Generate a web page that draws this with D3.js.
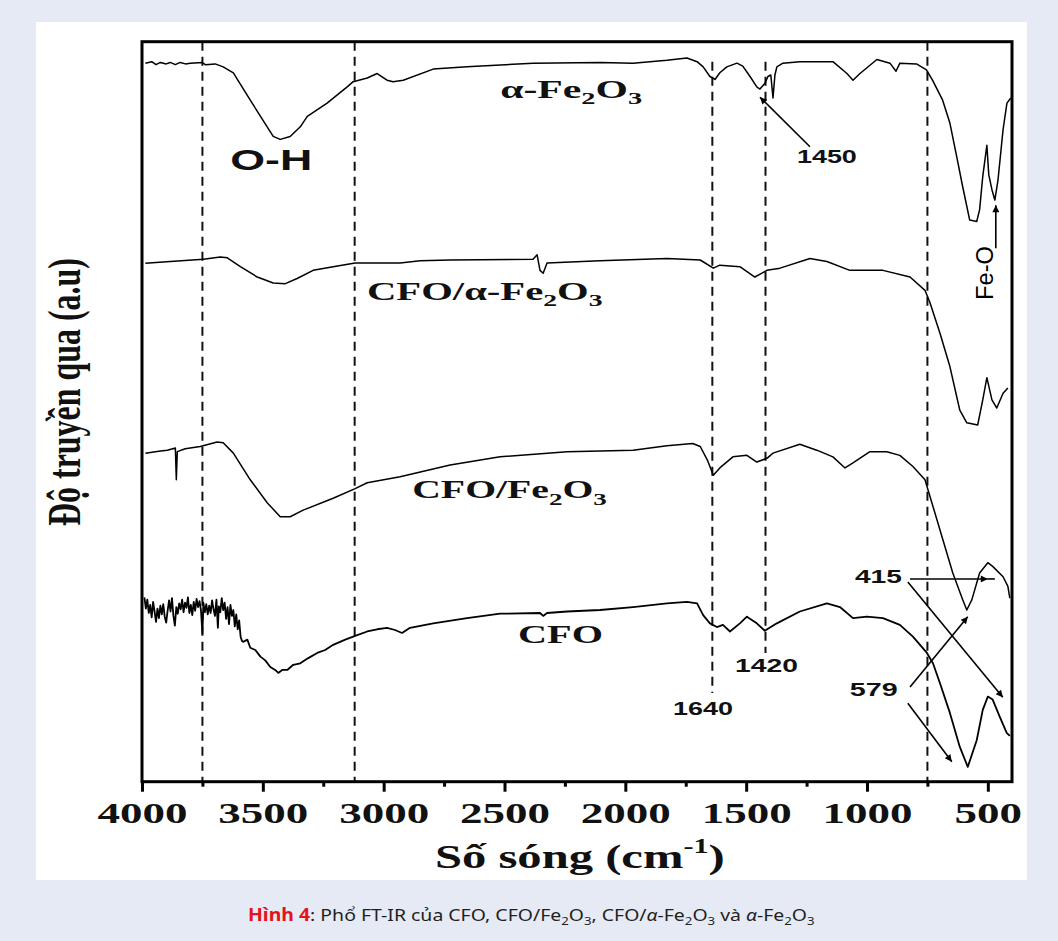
<!DOCTYPE html>
<html><head><meta charset="utf-8">
<script src="https://cdn.jsdelivr.net/npm/d3@7"></script>
<style>html,body{margin:0;padding:0;background:#e6eaf5;} svg{display:block}</style>
</head><body><svg id="c" width="1058" height="941"></svg>
<script>
// ---------- DATA (wavenumber cm^-1, transmittance a.u.) ----------
const alphaFe2O3 = [[3986,97.1],[3960,97.3],[3942,96.9],[3924,97.2],[3900,97.0],[3883,97.2],[3862,96.9],[3842,97.2],[3820,97.0],[3800,97.1],[3752,97.2],[3738,96.9],[3697,97.0],[3664,96.6],[3622,95.8],[3552,92.1],[3482,88.5],[3457,87.2],[3428,86.8],[3387,87.2],[3345,88.5],[3316,89.9],[3234,91.7],[3151,93.9],[3126,94.6],[3068,95.1],[3027,95.7],[2986,94.8],[2961,94.6],[2919,94.8],[2795,96.3],[2655,96.6],[2382,97.1],[2105,97.2],[1968,97.1],[1828,97.5],[1745,97.8],[1703,97.3],[1678,96.6],[1650,95.3],[1629,94.9],[1609,95.8],[1580,96.6],[1538,97.1],[1514,96.7],[1484,95.3],[1456,93.9],[1443,93.6],[1422,94.4],[1410,95.3],[1398,95.5],[1389,92.4],[1381,95.5],[1373,96.6],[1348,97.1],[1278,97.3],[1141,97.3],[1083,95.7],[1058,94.8],[1029,95.7],[959,97.6],[905,97.1],[880,96.0],[864,97.1],[795,97.0],[754,96.2],[729,94.8],[687,92.1],[657,89.0],[629,84.5],[604,80.4],[575,75.9],[546,75.7],[534,77.3],[521,81.8],[504,86.0],[496,82.0],[483,80.0],[471,78.6],[458,81.3],[437,88.1],[421,91.7],[405,92.4]];
const cfoAlphaFe2O3 = [[3986,70.05],[3883,70.3],[3746,70.6],[3676,70.9],[3647,70.8],[3593,69.6],[3523,68.2],[3457,67.4],[3407,67.3],[3358,68.0],[3292,69.1],[3209,69.6],[3118,70.1],[2932,70.1],[2849,70.4],[2725,70.5],[2382,70.6],[2365,71.2],[2353,69.1],[2340,68.7],[2324,70.1],[2105,70.4],[1828,70.7],[1690,70.5],[1636,69.4],[1609,69.8],[1526,69.6],[1464,68.2],[1414,69.1],[1360,69.4],[1236,70.7],[1166,70.3],[1071,69.1],[934,69.1],[822,68.2],[760,66.4],[740,64.8],[698,60.6],[657,56.1],[616,50.2],[587,48.5],[542,48.2],[521,51.6],[504,54.6],[483,51.6],[463,50.5],[437,52.5],[417,53.2]];
const cfoFe2O3 = [[3986,44.4],[3924,44.7],[3895,44.8],[3862,45.1],[3858,40.8],[3854,44.6],[3821,45.0],[3759,45.3],[3689,45.9],[3664,45.8],[3622,44.4],[3552,40.8],[3482,37.7],[3428,35.8],[3387,35.8],[3333,36.7],[3209,38.3],[3118,39.6],[3068,40.4],[2932,41.2],[2725,42.8],[2518,43.9],[2241,44.6],[1968,44.8],[1828,45.4],[1721,45.7],[1690,45.3],[1661,43.5],[1636,41.4],[1609,42.4],[1555,43.9],[1497,44.1],[1456,43.2],[1414,43.7],[1389,44.4],[1278,45.6],[1208,44.8],[1141,43.9],[1091,42.4],[1058,43.1],[988,44.6],[918,44.6],[864,44.1],[810,42.6],[760,40.8],[727,37.2],[686,32.7],[645,28.2],[604,24.6],[587,23.2],[566,24.6],[534,28.2],[500,29.6],[480,29.1],[437,27.7],[417,26.4],[409,24.8]];
const cfo = [[3990,24.9],[3984,23.4],[3978,24.6],[3972,22.8],[3966,23.9],[3960,22.2],[3954,24.3],[3948,23.0],[3942,21.6],[3936,23.4],[3930,22.1],[3924,23.8],[3918,22.6],[3912,24.0],[3906,22.3],[3900,21.5],[3894,23.1],[3888,24.5],[3882,23.0],[3876,24.8],[3870,22.4],[3864,21.1],[3858,23.6],[3852,22.7],[3846,24.1],[3840,23.3],[3834,24.6],[3828,22.9],[3822,24.2],[3816,23.5],[3810,24.9],[3804,22.8],[3798,23.9],[3792,22.5],[3786,24.3],[3780,23.1],[3774,24.7],[3768,23.6],[3762,24.4],[3756,23.2],[3750,20.0],[3746,24.2],[3740,22.9],[3734,24.0],[3728,22.6],[3722,23.8],[3716,22.8],[3710,24.5],[3704,23.3],[3698,22.4],[3692,24.6],[3686,20.8],[3682,23.7],[3676,22.9],[3670,24.8],[3664,23.2],[3658,24.2],[3652,22.0],[3646,23.6],[3640,21.3],[3634,23.9],[3628,22.4],[3622,23.2],[3616,21.0],[3610,22.6],[3604,20.6],[3598,21.8],[3592,19.6],[3586,19.0],[3581,18.9],[3564,19.2],[3552,18.1],[3531,17.8],[3510,16.9],[3490,16.4],[3469,15.5],[3449,15.1],[3436,14.7],[3420,15.1],[3399,15.1],[3374,15.8],[3345,16.0],[3312,16.7],[3275,17.4],[3242,17.8],[3209,18.5],[3159,19.2],[3118,19.7],[3068,20.3],[3027,20.6],[2986,20.8],[2953,20.5],[2924,20.1],[2891,20.8],[2795,21.4],[2655,22.1],[2518,22.7],[2353,22.8],[2340,22.4],[2324,22.8],[2241,23.0],[2105,23.2],[1968,23.6],[1828,24.1],[1745,24.3],[1703,24.1],[1678,22.5],[1650,21.4],[1621,20.9],[1596,21.2],[1567,20.3],[1526,21.4],[1497,22.3],[1456,21.4],[1423,20.4],[1373,21.4],[1278,23.0],[1166,24.1],[1112,23.6],[1058,22.1],[1001,22.3],[934,22.1],[864,21.2],[810,19.6],[752,17.4],[727,16.0],[698,13.3],[657,9.3],[616,4.7],[583,2.0],[546,5.6],[521,9.7],[500,11.5],[480,11.1],[451,8.8],[422,6.6],[409,6.2]];

const majorTicks = [4000,3500,3000,2500,2000,1500,1000,500];
const minorTicks = [3750,3250,2750,2250,1750,1250,750];
const fullDashed = [3750,3120,750];
const peakDashed = [[1640,97.3,12.0],[1420,97.3,17.4]]; // wavenumber, top, bottom (a.u.)

// ---------- SETUP ----------
const svg = d3.select("#c");
svg.append("rect").attr("x",0).attr("y",0).attr("width",1058).attr("height",941).attr("fill","#e6eaf5");
svg.append("rect").attr("x",36).attr("y",22).attr("width",991).attr("height",858).attr("fill","#ffffff");

const x = d3.scaleLinear().domain([4000,400]).range([142,1012]);
const y = d3.scaleLinear().domain([0,100]).range([781.7,41.7]);
const SERIF = "'Liberation Serif','Times New Roman',serif";
const SANS = "'Liberation Sans',Arial,sans-serif";

// dashed lines
const dash = svg.append("g").attr("stroke","#111").attr("stroke-width",2).attr("stroke-dasharray","9,6");
fullDashed.forEach(v => dash.append("line").attr("x1",x(v)).attr("x2",x(v)).attr("y1",y(100)).attr("y2",y(0)));
peakDashed.forEach(([v,t,b]) => dash.append("line").attr("x1",x(v)).attr("x2",x(v)).attr("y1",y(t)).attr("y2",y(b)));

// spectra
const line = d3.line().x(d=>x(d[0])).y(d=>y(d[1]));
[alphaFe2O3,cfoAlphaFe2O3,cfoFe2O3,cfo].forEach((s,i) => {
  svg.append("path").datum(s).attr("d",line).attr("fill","none").attr("stroke","#000")
    .attr("stroke-width", i===3 ? 1.8 : 1.5).attr("stroke-linejoin","round");
});

// frame
svg.append("rect").attr("x",x(4000)).attr("y",y(100)).attr("width",x(400)-x(4000)).attr("height",y(0)-y(100))
  .attr("fill","none").attr("stroke","#000").attr("stroke-width",3);

// axes
const axMaj = svg.append("g").attr("transform",`translate(0,${y(0)})`)
  .call(d3.axisBottom(x).tickValues(majorTicks).tickSize(10).tickPadding(10).tickFormat(d=>String(d)));
const axMin = svg.append("g").attr("transform",`translate(0,${y(0)})`)
  .call(d3.axisBottom(x).tickValues(minorTicks).tickSize(5).tickFormat(""));
[axMaj,axMin].forEach(a => { a.select(".domain").remove(); a.selectAll(".tick line").attr("stroke","#000").attr("stroke-width",3); });
axMaj.selectAll(".tick text").attr("font-family",SERIF).attr("font-weight","bold").attr("font-size",30).attr("fill","#111");
{
  const w0 = axMaj.select(".tick text").node().getBBox().width;
  const sx = 90 / w0;
  axMaj.selectAll(".tick text").attr("transform",`scale(${sx},1)`);
}

// ---------- rich text helper ----------
function rich(parts, size, family, weight, fill) {
  const g = svg.append("g");
  const t = g.append("text").attr("font-family",family).attr("font-size",size).attr("font-weight",weight||"bold").attr("fill",fill||"#111");
  let cur = 0;
  parts.forEach(p => {
    const [s,kind,extra] = Array.isArray(p) ? p : [p];
    const ts = t.append("tspan").text(s);
    let target = 0;
    if (kind==="sub") { ts.attr("font-size", size*0.68); target = size*0.24; }
    else if (kind==="sup") { ts.attr("font-size", size*0.62); target = -size*0.42; }
    if (extra) Object.entries(extra).forEach(([k,v]) => ts.attr(k,v));
    if (target !== cur) { ts.attr("dy", target-cur); cur = target; }
  });
  return {g, t};
}
function label(parts, wn, val, width, size, family, opts) {
  opts = opts || {};
  const {g,t} = rich(parts, size, family, opts.weight, opts.fill);
  const w0 = t.node().getBBox().width;
  const sx = width / w0, sy = opts.sy || 1;
  const px = opts.pixel ? wn : x(wn);
  const py = opts.pixel ? val : y(val);
  g.attr("transform", `translate(${px},${py}) rotate(${opts.rotate||0}) scale(${sx},${sy})`);
  return g;
}

// series labels
label(["α-Fe",["2","sub"],"O",["3","sub"]], 2518, 92.4, 142, 25, SERIF);
label(["CFO/α-Fe",["2","sub"],"O",["3","sub"]], 3069, 65.1, 236, 26, SERIF);
label(["CFO/Fe",["2","sub"],"O",["3","sub"]], 2882, 38.3, 195, 26, SERIF);
label(["CFO"], 2444, 18.8, 85, 26, SERIF);

// annotations
label(["O-H"], 3635, 82.7, 82, 30, SANS);
label(["1450"], 1290, 83.6, 60, 18, SANS);
label(["1640"], 1803, 9.0, 60, 18, SANS);
label(["1420"], 1546, 14.8, 63, 18, SANS);
label(["415"], 1050, 26.9, 47, 18, SANS);
label(["579"], 1071, 11.6, 48, 18, SANS);
label(["Fe-O"], 479, 65.1, 54, 23, SANS, {rotate:-90, sy:1.05, weight:"normal", fill:"#000"});

// arrows
const defs = svg.append("defs");
defs.append("marker").attr("id","ah").attr("viewBox","0 0 10 10").attr("refX",10).attr("refY",5)
  .attr("markerWidth",10).attr("markerHeight",7).attr("markerUnits","userSpaceOnUse").attr("orient","auto")
  .append("path").attr("d","M0,0 L10,5 L0,10 Z").attr("fill","#000");
const arrows = [
  [[1236,85.8],[1443,92.5]],
  [[467,72.1],[467,77.9]],
  [[822,27.4],[500,27.4]],
  [[831,27.0],[438,11.4]],
  [[822,12.8],[583,22.3]],
  [[831,10.6],[649,2.7]]
];
const ag = svg.append("g").attr("stroke","#000").attr("stroke-width",1.6).attr("fill","none");
arrows.forEach(([a,b]) => ag.append("line").attr("x1",x(a[0])).attr("y1",y(a[1])).attr("x2",x(b[0])).attr("y2",y(b[1])).attr("marker-end","url(#ah)"));
ag.append("line").attr("x1",x(500)).attr("y1",y(27.4)).attr("x2",x(471)).attr("y2",y(27.4));

// axis titles
label(["Số sóng (cm",["-1","sup"],")"], 2788, -11.6, 290, 34, SERIF);
label(["Độ truyền qua (a.u)"], 80, 526, 268, 34, SERIF, {rotate:-90, sy:1.35, pixel:true});

// caption
{
  const S = 17;
  const parts = [
    ["Hình 4", null, {fill:"#e4141b","font-weight":"bold"}],
    ": Phổ FT-IR của CFO, CFO/Fe",["2","sub"],"O",["3","sub"],", CFO/",["α",null,{"font-style":"italic"}],"-Fe",["2","sub"],"O",["3","sub"],
    " và ",["α",null,{"font-style":"italic"}],"-Fe",["2","sub"],"O",["3","sub"]
  ];
  label(parts, 248, 921, 567, S, "'Noto Sans','Open Sans',sans-serif", {weight:"normal", fill:"#231f20", pixel:true});
}
</script></body></html>
